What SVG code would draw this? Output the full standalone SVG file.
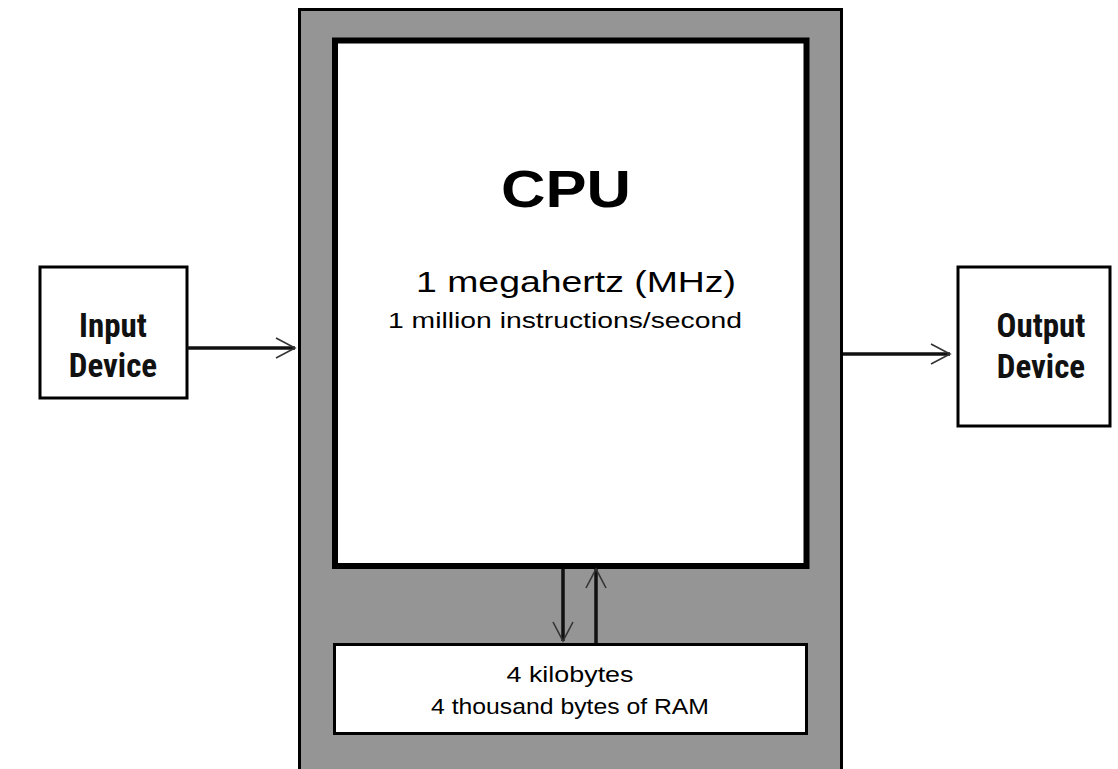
<svg xmlns="http://www.w3.org/2000/svg" width="1118" height="769" viewBox="0 0 1118 769">
<style>
.dev{font-family:"Liberation Sans Narrow","Roboto Condensed","Liberation Sans",sans-serif;font-weight:bold;font-size:33px;text-anchor:middle;fill:#111}
.t{font-family:"Liberation Sans",Arial,sans-serif;text-anchor:middle;fill:#000}
.box{fill:#fff;stroke:#000;stroke-width:3}
.conn{stroke:#111;stroke-width:3.5;fill:none}
</style>
<defs>
<marker id="ah" viewBox="0 0 22 22" refX="20" refY="11" markerWidth="22" markerHeight="22" markerUnits="userSpaceOnUse" orient="auto">
<path d="M1,1 L20,11 L1,21" fill="none" stroke="#333" stroke-width="1.6"/>
</marker>
</defs>
<rect width="1118" height="769" fill="#fff"/>
<g id="computer">
<rect x="299.5" y="9.5" width="542" height="775" fill="#959595" stroke="#000" stroke-width="3"/>
</g>
<g id="cpu">
<rect x="335" y="40.5" width="471.5" height="525.5" fill="#fff" stroke="#000" stroke-width="6"/>
<text class="t" x="566" y="207" font-size="52" font-weight="bold" textLength="130" lengthAdjust="spacingAndGlyphs">CPU</text>
<text class="t" x="576" y="292" font-size="30" textLength="320" lengthAdjust="spacingAndGlyphs">1 megahertz (MHz)</text>
<text class="t" x="565" y="328" font-size="22" textLength="354" lengthAdjust="spacingAndGlyphs">1 million instructions/second</text>
</g>
<g id="ram">
<rect class="box" x="334.5" y="644.5" width="472" height="89"/>
<text class="t" x="570" y="682" font-size="22" textLength="127" lengthAdjust="spacingAndGlyphs">4 kilobytes</text>
<text class="t" x="570" y="714" font-size="22" textLength="278" lengthAdjust="spacingAndGlyphs">4 thousand bytes of RAM</text>
</g>
<g id="input">
<rect class="box" x="40" y="267" width="147" height="131"/>
<text class="dev" x="113" y="337" font-size="31">Input</text>
<text class="dev" x="113" y="377" font-size="31">Device</text>
</g>
<g id="output">
<rect class="box" x="958" y="267" width="152" height="159"/>
<text class="dev" x="1041" y="337">Output</text>
<text class="dev" x="1041" y="378">Device</text>
</g>
<g id="connectors">
<line class="conn" x1="187" y1="348" x2="295" y2="348" marker-end="url(#ah)"/>
<line class="conn" x1="843" y1="354" x2="950" y2="354" marker-end="url(#ah)"/>
<line class="conn" x1="563" y1="569" x2="563" y2="641" marker-end="url(#ah)"/>
<line class="conn" x1="596" y1="643" x2="596" y2="569" marker-end="url(#ah)"/>
</g>
</svg>
